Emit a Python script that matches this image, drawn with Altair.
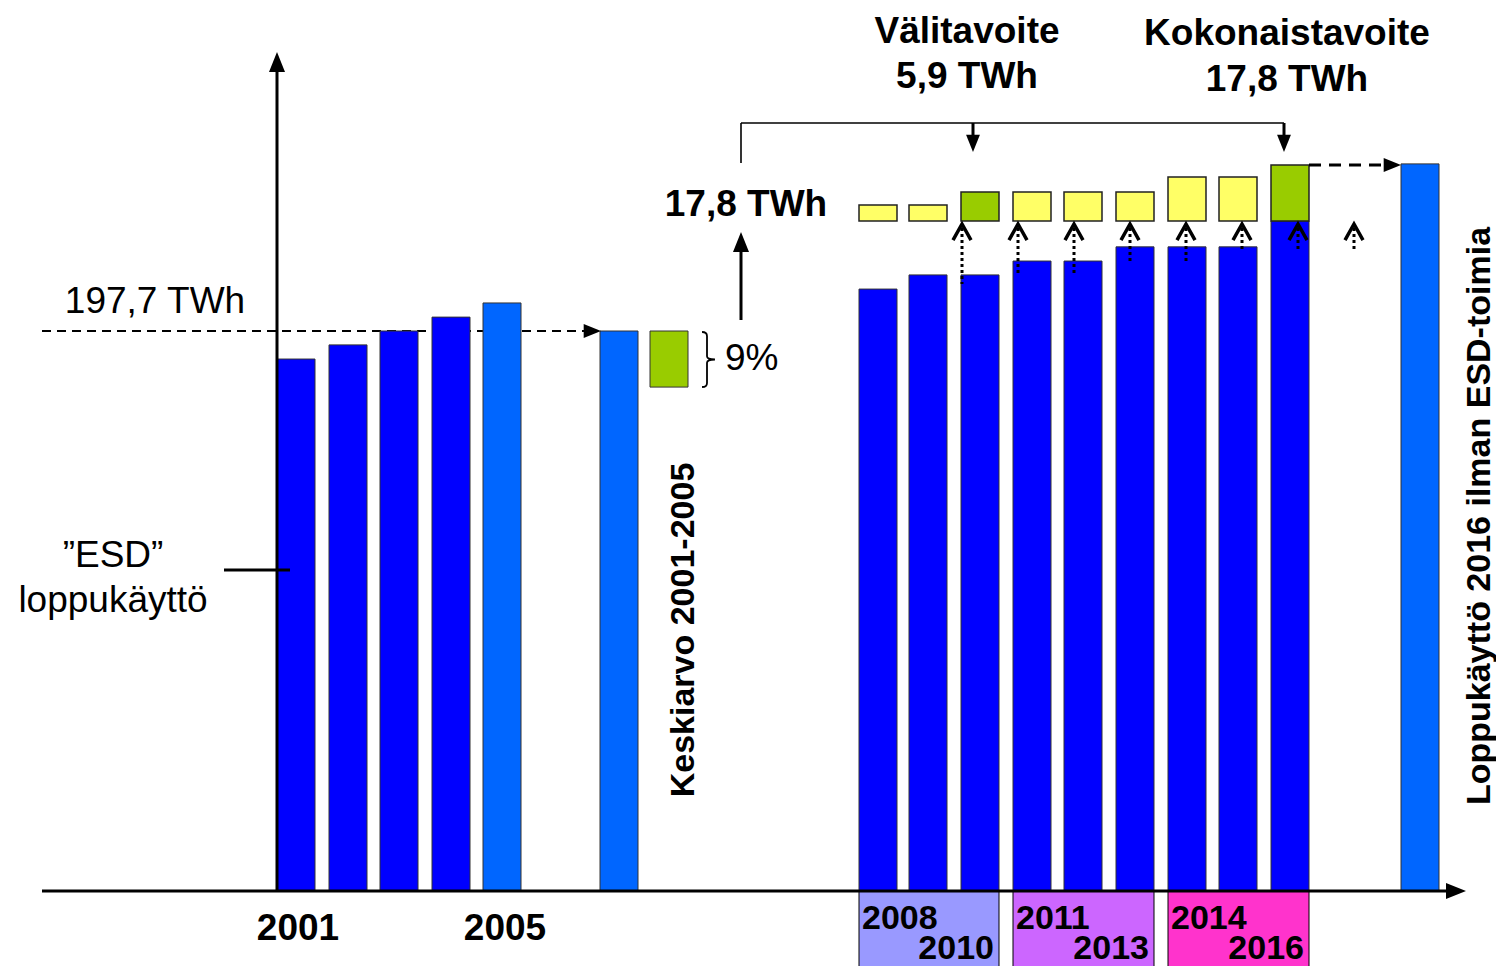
import altair as alt
import pandas as pd

# ---------------- data ----------------
K = 197.7 / 560.0          # TWh per drawing pixel (baseline 0 TWh, dashed line 197.7 TWh)


def v(img_y):
    return (891 - img_y) * K


hist_years = ["2001", "2002", "2003", "2004", "2005"]
hist_values = [187.8, 192.8, 197.7, 202.6, 207.6]
hist_x = [277, 329, 380, 432, 483]
avg_value = 197.7
avg_x = 600
saving_low = 177.9
saving_x = 650

period_years = ["2008", "2009", "2010", "2011", "2012", "2013", "2014", "2015", "2016"]
period_values = [212.5, 217.5, 217.5, 222.4, 222.4, 227.4, 227.4, 227.4, 236.5]
target_tops = [242.2, 242.2, 246.8, 246.8, 246.8, 246.8, 252.1, 252.1, 256.3]
target_kind = ["y", "y", "g", "y", "y", "y", "y", "y", "g"]
period_x = [859, 909, 961, 1013, 1064, 1116, 1168, 1219, 1271]
final_value = 256.7
final_x = 1401
BAR_W = 38

group_first = ["2008", "2011", "2014"]
group_last = ["2010", "2013", "2016"]
group_colors = ["#9999FF", "#CC66FF", "#FF33CC"]
group_x = [(859, 999), (1013, 1154), (1168, 1309)]

DARK = "#0000FF"
LIGHT = "#0066FF"
GREEN = "#99CC00"
YELLOW = "#FFFF66"
FONT = "Liberation Sans"

X = alt.Scale(domain=[8, 1496], nice=False, zero=False)
Y = alt.Scale(domain=[v(966), v(8)], nice=False, zero=False)


def enc_rect():
    return dict(
        x=alt.X("x0:Q", scale=X, axis=None),
        x2="x1:Q",
        y=alt.Y("y0:Q", scale=Y, axis=None),
        y2="y1:Q",
        fill=alt.Fill("fill:N", scale=None),
    )


# ---------------- rectangles ----------------
rows = []
for xv, val in zip(hist_x, hist_values):
    rows.append(dict(x0=xv, x1=xv + BAR_W, y0=0, y1=val, fill=DARK))
rows[-1]["fill"] = LIGHT
rows.append(dict(x0=avg_x, x1=avg_x + BAR_W, y0=0, y1=avg_value, fill=LIGHT))
rows.append(dict(x0=saving_x, x1=saving_x + BAR_W, y0=saving_low, y1=avg_value, fill=GREEN))
for xv, val in zip(period_x, period_values):
    rows.append(dict(x0=xv, x1=xv + BAR_W, y0=0, y1=val, fill=DARK))
rows.append(dict(x0=final_x, x1=final_x + BAR_W, y0=0, y1=final_value, fill=LIGHT))
bars = pd.DataFrame(rows)

trows = []
for xv, lo, hi, k in zip(period_x, period_values, target_tops, target_kind):
    trows.append(dict(x0=xv, x1=xv + BAR_W, y0=236.5, y1=hi, fill=GREEN if k == "g" else YELLOW))
targets = pd.DataFrame(trows)

boxes = pd.DataFrame([
    dict(x0=a, x1=b, y0=0, y1=v(974), fill=c) for (a, b), c in zip(group_x, group_colors)
])

layers = []
layers.append(alt.Chart(boxes).mark_rect(stroke="#000000", strokeWidth=1).encode(**enc_rect()))

# dashed 197.7 line (beneath bars)
dash1 = pd.DataFrame([dict(x=42, x2=588, y=avg_value, y2=avg_value)])
layers.append(alt.Chart(dash1).mark_rule(strokeDash=[9, 6], strokeWidth=2, color="black").encode(
    x=alt.X("x:Q", scale=X, axis=None), x2="x2:Q",
    y=alt.Y("y:Q", scale=Y, axis=None), y2="y2:Q"))

layers.append(alt.Chart(bars).mark_rect(stroke="#333333", strokeWidth=1).encode(**enc_rect()))
layers.append(alt.Chart(targets).mark_rect(stroke="#222222", strokeWidth=1.5).encode(**enc_rect()))

# ---------------- lines ----------------
solid = pd.DataFrame([
    dict(x=277, x2=277, y=0, y2=v(70), w=3),        # y axis
    dict(x=42, x2=1448, y=0, y2=0, w=3),            # x axis
    dict(x=224, x2=290, y=v(570), y2=v(570), w=4),  # ESD tick
    dict(x=741, x2=741, y=v(320), y2=v(250), w=3),  # 17.8 up arrow
])
layers.append(alt.Chart(solid).mark_rule(color="black", strokeWidth=3).encode(
    x=alt.X("x:Q", scale=X, axis=None), x2="x2:Q",
    y=alt.Y("y:Q", scale=Y, axis=None), y2="y2:Q",
    strokeWidth=alt.StrokeWidth("w:Q", scale=None)))

bracket = pd.DataFrame([
    dict(x=741, x2=741, y=v(163), y2=v(123), w=1.6),
    dict(x=741, x2=1284, y=v(123), y2=v(123), w=1.6),
    dict(x=973, x2=973, y=v(123), y2=v(138), w=3),
    dict(x=1284, x2=1284, y=v(123), y2=v(138), w=3),
])
layers.append(alt.Chart(bracket).mark_rule(color="black").encode(
    x=alt.X("x:Q", scale=X, axis=None), x2="x2:Q",
    y=alt.Y("y:Q", scale=Y, axis=None), y2="y2:Q",
    strokeWidth=alt.StrokeWidth("w:Q", scale=None)))

dash2 = pd.DataFrame([dict(x=1309, x2=1388, y=v(165), y2=v(165))])
layers.append(alt.Chart(dash2).mark_rule(strokeDash=[12, 8], strokeWidth=3, color="black").encode(
    x=alt.X("x:Q", scale=X, axis=None), x2="x2:Q",
    y=alt.Y("y:Q", scale=Y, axis=None), y2="y2:Q"))

dot_x = [962, 1018, 1074, 1130, 1186, 1242, 1298, 1354]
dot_bottom = [284, 276, 276, 263, 263, 249, 250, 250]
dots = pd.DataFrame([dict(x=a, y=v(228), y2=v(b)) for a, b in zip(dot_x, dot_bottom)])
layers.append(alt.Chart(dots).mark_rule(strokeDash=[3, 3], strokeWidth=3, color="black").encode(
    x=alt.X("x:Q", scale=X, axis=None),
    y=alt.Y("y:Q", scale=Y, axis=None), y2="y2:Q"))

chev = pd.DataFrame([dict(x=a, y=v(224)) for a in dot_x])
layers.append(alt.Chart(chev).mark_point(
    shape="M-1,1.8L0,0L1,1.8", filled=False, size=324, color="black", strokeWidth=3.5, opacity=1
).encode(x=alt.X("x:Q", scale=X, axis=None), y=alt.Y("y:Q", scale=Y, axis=None)))

# arrowheads
UP = "M0,0L-0.8,2L0.8,2Z"
DOWN = "M0,0L-0.8,-2L0.8,-2Z"
RIGHT = "M0,0L-2,-0.8L-2,0.8Z"
heads = [
    (UP, 400, [dict(x=277, y=v(52)), dict(x=741, y=v(232))]),
    (DOWN, 300, [dict(x=973, y=v(152)), dict(x=1284, y=v(152))]),
    (RIGHT, 400, [dict(x=1466, y=0)]),
    (RIGHT, 300, [dict(x=601, y=avg_value), dict(x=1401, y=v(165))]),
]
for shp, sz, pts in heads:
    layers.append(alt.Chart(pd.DataFrame(pts)).mark_point(
        shape=shp, filled=True, size=sz, color="black", opacity=1, strokeWidth=0
    ).encode(x=alt.X("x:Q", scale=X, axis=None), y=alt.Y("y:Q", scale=Y, axis=None)))

# brace for 9 %
brace = pd.DataFrame([dict(x=707, y=v(359.5))])
layers.append(alt.Chart(brace).mark_point(
    shape="M-0.18,-1Q0,-1 0,-0.85L0,-0.12Q0,0 0.29,0Q0,0 0,0.12L0,0.85Q0,1 -0.18,1",
    filled=False, size=3025, color="black", strokeWidth=1.8, opacity=1
).encode(x=alt.X("x:Q", scale=X, axis=None), y=alt.Y("y:Q", scale=Y, axis=None)))

# ---------------- texts ----------------
texts = [
    # text, x, y(img baseline), size, weight, align, angle
    ("Välitavoite", 967, 43, 37, "bold", "center", 0),
    ("5,9 TWh", 967, 88, 37, "bold", "center", 0),
    ("Kokonaistavoite", 1287, 45, 37, "bold", "center", 0),
    ("17,8 TWh", 1287, 91, 37, "bold", "center", 0),
    ("17,8 TWh", 746, 216, 37, "bold", "center", 0),
    ("197,7 TWh", 155, 313, 37, "normal", "center", 0),
    ("9%", 725, 370, 37, "normal", "left", 0),
    ("\u201dESD\u201d", 113, 567, 37, "normal", "center", 0),
    ("loppukäyttö", 113, 612, 37, "normal", "center", 0),
    ("2001", 298, 940, 37, "bold", "center", 0),
    ("2005", 505, 940, 37, "bold", "center", 0),
    ("Keskiarvo 2001-2005", 694, 630, 34, "bold", "center", 270),
    ("Loppukäyttö 2016 ilman ESD-toimia", 1490, 516, 34, "bold", "center", 270),
]
for a, b, side in zip(group_first, group_last, group_x):
    texts.append((a, side[0] + 3, 929, 34, "bold", "left", 0))
    texts.append((b, side[1] - 5, 959, 34, "bold", "right", 0))

for t, xv, yv, fs, fw, al, ang in texts:
    df = pd.DataFrame([dict(x=xv, y=v(yv), t=t)])
    layers.append(alt.Chart(df).mark_text(
        font=FONT, fontSize=fs, fontWeight=fw, align=al, baseline="alphabetic",
        angle=ang, color="black"
    ).encode(x=alt.X("x:Q", scale=X, axis=None), y=alt.Y("y:Q", scale=Y, axis=None), text="t:N"))

chart = alt.layer(*layers).properties(
    width=1488, height=958, padding=0,
    autosize=alt.AutoSizeParams(type="none"),
    background="white",
).configure_view(stroke=None)

chart.save("out.html", embed_options={"renderer": "svg", "actions": False})
